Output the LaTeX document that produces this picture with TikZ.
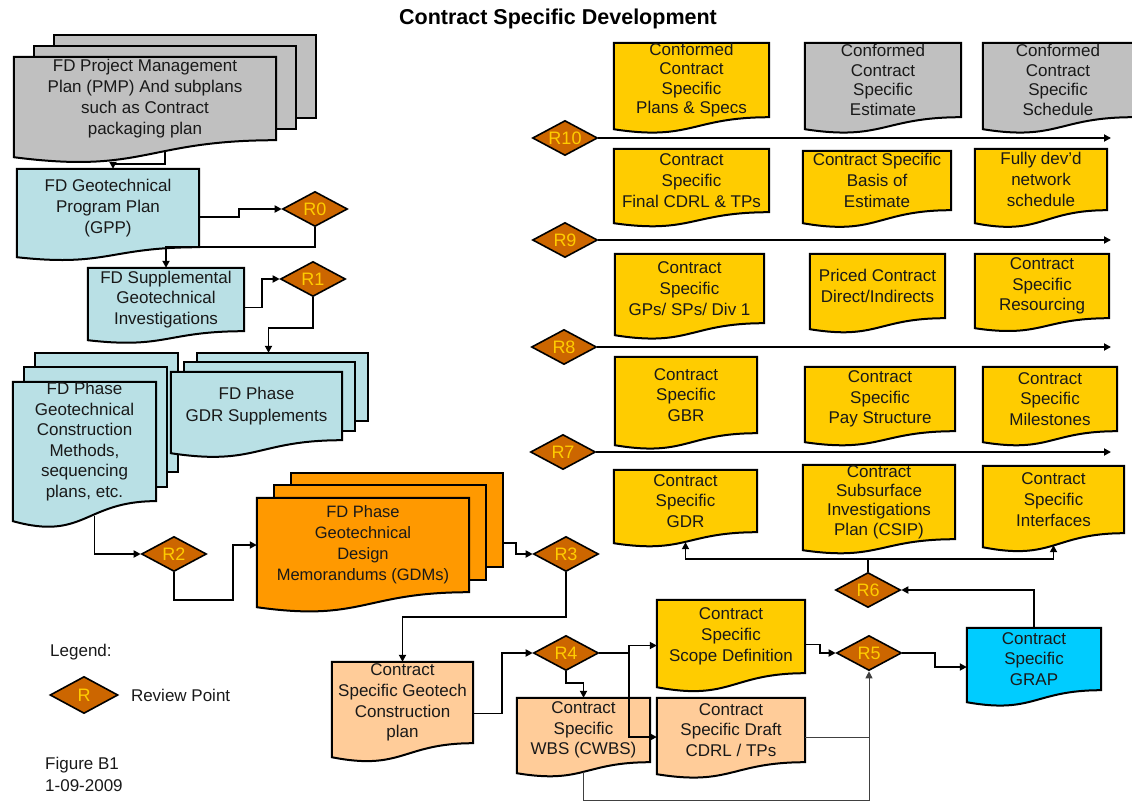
\documentclass[tikz,border=0pt]{standalone}
\usepackage{fontspec}
\setmainfont{Liberation Sans}
\definecolor{PlanGray}{HTML}{C0C0C0}
\definecolor{GeoBlue}{HTML}{B9E0E5}
\definecolor{GdmOrange}{HTML}{FF9900}
\definecolor{PlanPeach}{HTML}{FFCC99}
\definecolor{SpecYellow}{HTML}{FFCC00}
\definecolor{GrapCyan}{HTML}{00CCFF}
\definecolor{ReviewBrown}{HTML}{CC6600}
\definecolor{ReviewGold}{HTML}{FFCC00}
\usetikzlibrary{
  arrows.meta,
  positioning,
  shapes.geometric,
  calc,
  backgrounds
}

\begin{document}
\begin{tikzpicture}[
  x=1pt, y=-1pt,
  doc/.style 2 args={
    rectangle, inner sep=0pt,
    minimum width=#1, minimum height=#2,
    font=\fontsize{17pt}{20.8pt}\selectfont, text=black!90,
    align=center
  },
  tight/.style={
    font=\fontsize{17pt}{19.4pt}\selectfont
  },
  plain/.style={
    inner sep=0pt, text=black!90,
    font=\fontsize{17pt}{22pt}\selectfont
  },
  review/.style={
    diamond, aspect=2, draw=black, line width=1.6pt,
    fill=ReviewBrown, text=ReviewGold, inner sep=0pt,
    minimum width=65pt, minimum height=35pt,
    font=\fontsize{18pt}{18pt}\selectfont
  },
  docline/.style={
    draw=black, line width=2pt
  },
  arr/.style={
    -{Triangle[length=7pt,width=7pt]}, line width=1.8pt
  },
  thinline/.style={
    line width=1pt, black!75
  },
  thinarr/.style={
    thinline, -{Triangle[length=7pt,width=7pt]}
  }
]
  \useasboundingbox (0,0) rectangle (1132,803);

  \node[font=\fontsize{21.5pt}{24pt}\selectfont\bfseries] (title) at (558,19) {Contract Specific Development};

  % FD phase column
  \node[doc={262pt}{83pt}] (pmp) at (145,98.5) {FD Project Management\\Plan (PMP) And subplans\\such as Contract\\packaging plan};
  \node[doc={182pt}{78pt}] (gpp) at (108,208) {FD Geotechnical\\Program Plan\\(GPP)};
  \node[doc={156pt}{63pt}] (supp) at (166,299.5) {FD Supplemental\\Geotechnical\\Investigations};
  \node[doc={143pt}{117pt}, font=\fontsize{17pt}{20.6pt}\selectfont] (meth) at (84.5,441.5) {FD Phase\\Geotechnical\\Construction\\Methods,\\sequencing\\plans, etc.};
  \node[doc={171pt}{68pt}, font=\fontsize{17pt}{22pt}\selectfont] (gdrs) at (256.5,406) {FD Phase\\GDR Supplements};
  \node[doc={212pt}{94pt}, font=\fontsize{16.5pt}{21pt}\selectfont] (gdm) at (363,545) {FD Phase\\Geotechnical\\Design\\Memorandums (GDMs)};
  \node[doc={141pt}{81pt}] (gcp) at (402.5,702.5) {Contract\\Specific Geotech\\Construction\\plan};

  % contract specific column
  \node[doc={133pt}{64pt}] (wbs) at (583.5,730) {Contract\\Specific\\WBS (CWBS)};
  \node[doc={148pt}{64pt}] (dcdrl) at (731,730) {Contract\\Specific Draft\\CDRL / TPs};
  \node[doc={148pt}{73pt}] (scope) at (731,636.5) {Contract\\Specific\\Scope Definition};
  \node[doc={134pt}{62pt}] (grap) at (1034,659) {Contract\\Specific\\GRAP};

  \node[doc={143pt}{62pt}] (gdr) at (685.5,501) {Contract\\Specific\\GDR};
  \node[doc={152pt}{74pt}, tight] (csip) at (879,502) {Contract\\Subsurface\\Investigations\\Plan (CSIP)};
  \node[doc={141pt}{67pt}] (intf) at (1053.5,499.5) {Contract\\Specific\\Interfaces};

  \node[doc={142pt}{76pt}] (gbr) at (686,395) {Contract\\Specific\\GBR};
  \node[doc={150pt}{64pt}] (pay) at (880,399) {Contract\\Specific\\Pay Structure};
  \node[doc={134pt}{64pt}] (mile) at (1050,399) {Contract\\Specific\\Milestones};

  \node[doc={149pt}{69pt}] (gps) at (689.5,288.5) {Contract\\Specific\\GPs/ SPs/ Div 1};
  \node[doc={135pt}{64pt}] (priced) at (877.5,286) {Priced Contract\\Direct/Indirects};
  \node[doc={134pt}{64pt}] (resrc) at (1042,286) {Contract\\Specific\\Resourcing};

  \node[doc={155pt}{63pt}] (fcdrl) at (691.5,180.5) {Contract\\Specific\\Final CDRL \& TPs};
  \node[doc={148pt}{59pt}] (boe) at (877,180.5) {Contract Specific\\Basis of\\Estimate};
  \node[doc={132pt}{61pt}] (netw) at (1041,179.5) {Fully dev'd\\network\\schedule};

  \node[doc={155pt}{74pt}, tight] (cps) at (691.5,80) {Conformed\\Contract\\Specific\\Plans \& Specs};
  \node[doc={156pt}{74pt}, tight] (cest) at (883,80) {Conformed\\Contract\\Specific\\Estimate};
  \node[doc={150pt}{74pt}, tight] (csched) at (1058,80) {Conformed\\Contract\\Specific\\Schedule};

  % review points
  \node[review] (r0) at (315,209) {R0};
  \node[review] (r1) at (313,279) {R1};
  \node[review] (r2) at (174,554) {R2};
  \node[review] (r3) at (566,554) {R3};
  \node[review] (r4) at (566,653) {R4};
  \node[review] (r5) at (869,653) {R5};
  \node[review] (r6) at (868,590) {R6};
  \node[review] (r7) at (563,452) {R7};
  \node[review] (r8) at (564,347) {R8};
  \node[review] (r9) at (565,240) {R9};
  \node[review] (r10) at (565,138) {R10};

  % legend
  \node[plain, anchor=west] (legend) at (50,652) {Legend:};
  \node[review, minimum width=68pt, minimum height=37pt] (legr) at (84,695) {R};
  \node[plain, right=12pt of legr] (legtxt) {Review Point};
  \node[plain, anchor=north west, align=left] (fig) at (45,757) {Figure B1\\1-09-2009};

  % connectors
  \draw[arr] ([shift={(20,10)}]pmp.south) -- ++(0,14) -| ([xshift=5pt]gpp.north);
  \draw[arr] ([yshift=-9pt]gpp.east) -- ++(40,0) |- (r0.west);
  \draw[arr] (r0.south) |- (gpp.south east) -| (supp.north);
  \draw[arr] ([yshift=-8pt]supp.east) -- ++(18,0) |- (r1.west);
  \draw[arr] (r1.south) -- ++(0,31) -| ([shift={(12,-19)}]gdrs.north);
  \draw[arr] ([shift={(10,15)}]meth.south) |- (r2.west);
  \draw[arr] (r2.south) -- ++(0,28) -| ([xshift=-24pt]gdm.west) -- (gdm.west);
  \draw[arr] ([shift={(34,-2)}]gdm.east) -- ++(13,0) |- (r3.west);
  \draw[arr] (r3.south) -- ++(0,45) -| (gcp.north);
  \draw[arr] ([yshift=-11pt]gcp.east) -- ++(29,0) |- (r4.west);
  \draw[arr] (r4.east) -- ++(30,0) coordinate (fork) |- ([yshift=-9pt]scope.west);
  \draw[arr] (fork) |- ([yshift=-7pt]dcdrl.west);
  \draw[arr] (r4.south) -- ++(0,12) -| (wbs.north);
  \draw[arr] ([yshift=-8pt]scope.east) -- ++(15,0) |- (r5.west);
  \draw[thinarr] ([yshift=-10pt]wbs.south) -- ++(0,28) -| (r5.south);
  \coordinate (dcout) at ([yshift=-7pt]dcdrl.east);
  \draw[thinline] (dcout) -- (dcout -| r5.south);
  \draw[arr] (r5.east) -- ++(33,0) |- ([yshift=-8pt]grap.west);
  \draw[arr] (grap.north) |- (r6.east);
  \draw[arr] (r6.north) -- ++(0,-13) coordinate (r6up) -| ([yshift=-10pt]gdr.south);
  \draw[arr] (r6up) -| ([yshift=-12pt]intf.south);

  % review lines across the deliverables
  \coordinate (tipx) at (1111,0);
  \foreach \r in {r7,r8,r9,r10}
    \draw[arr] (\r.east) -- (\r.east -| tipx);

  \begin{scope}[on background layer]
    % sheets behind the stacked documents
    \foreach \n/\c/\dx/\dy in {pmp/PlanGray/20/11, meth/GeoBlue/11/14.5, gdrs/GeoBlue/13/9.5, gdm/GdmOrange/17/12.5}
      \foreach \k in {2,1}
        \filldraw[docline, fill=\c]
          ([shift={({\k*\dx},{-\k*\dy})}]\n.north west) rectangle
          ([shift={({\k*\dx},{-\k*\dy})}]\n.south east);
    % document outlines with the wavy bottom
    \foreach \n/\c/\a in {pmp/PlanGray/17, gpp/GeoBlue/10, supp/GeoBlue/9,
        meth/GeoBlue/20, gdrs/GeoBlue/13, gdm/GdmOrange/15, gcp/PlanPeach/14,
        wbs/PlanPeach/11, dcdrl/PlanPeach/12, scope/SpecYellow/14,
        grap/GrapCyan/12, gdr/SpecYellow/11, csip/SpecYellow/11,
        intf/SpecYellow/14, gbr/SpecYellow/12, pay/SpecYellow/11,
        mile/SpecYellow/11, gps/SpecYellow/12, priced/SpecYellow/11,
        resrc/SpecYellow/10, fcdrl/SpecYellow/11, boe/SpecYellow/13,
        netw/SpecYellow/13, cps/SpecYellow/12, cest/PlanGray/12,
        csched/PlanGray/12}
      \filldraw[docline, fill=\c]
        (\n.north west) -- (\n.north east) -- (\n.south east)
        .. controls (\n.south) and ([yshift={-2*\a}]\n.south) ..
        ([yshift={-\a}]\n.south west) -- cycle;
  \end{scope}
\end{tikzpicture}
\end{document}
